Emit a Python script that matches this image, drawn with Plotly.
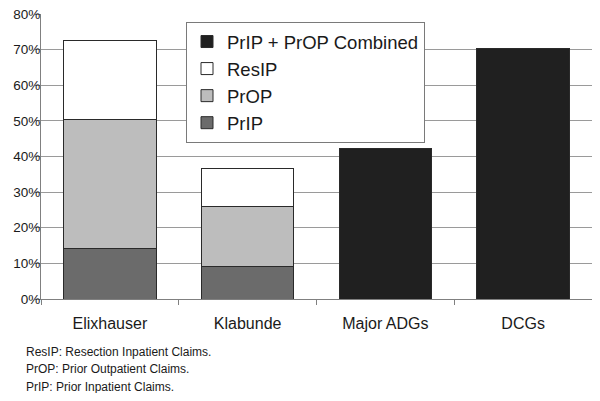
import plotly.graph_objects as go

categories = ["Elixhauser", "Klabunde", "Major ADGs", "DCGs"]
prip = [14.2, 9.1, None, None]
prop = [36.3, 17.0, None, None]
resip = [22.0, 10.5, None, None]
combined = [None, None, 42.3, 70.3]
y_ticks = [0, 10, 20, 30, 40, 50, 60, 70, 80]
y_tick_labels = [f"{v}%" for v in y_ticks]
footnotes = ["ResIP: Resection Inpatient Claims.",
             "PrOP: Prior Outpatient Claims.",
             "PrIP: Prior Inpatient Claims."]

FONT = "Liberation Sans, Arial, sans-serif"
line = dict(color="#2a2a2a", width=1)

# the page body adds an 8px offset; size the figure so the plot lands where the reference has it
W, H = 584, 385
L, T = 33, 6
PLOT_W = 551
PLOT_H = 285


def py(screen_y):
    return (299 - screen_y) / PLOT_H


def px(screen_x):
    return (screen_x - 41) / PLOT_W


fig = go.Figure()
fig.add_trace(go.Bar(name="PrIP", x=categories, y=prip, marker=dict(color="#6b6b6b", line=line)))
fig.add_trace(go.Bar(name="PrOP", x=categories, y=prop, marker=dict(color="#bdbdbd", line=line)))
fig.add_trace(go.Bar(name="ResIP", x=categories, y=resip, marker=dict(color="#ffffff", line=line)))
fig.add_trace(go.Bar(name="PrIP + PrOP Combined", x=categories, y=combined,
                     marker=dict(color="#202020", line=line)))

fig.update_layout(
    width=W, height=H,
    margin=dict(l=L, r=W - L - PLOT_W, t=T, b=H - T - PLOT_H, autoexpand=False),
    paper_bgcolor="white", plot_bgcolor="white",
    barmode="stack", bargap=0.33,
    font=dict(family=FONT, color="#1a1a1a"),
    showlegend=True,
    legend=dict(
        traceorder="reversed",
        x=px(186), y=py(22), xanchor="left", yanchor="top",
        bgcolor="white", bordercolor="#7a7a7a", borderwidth=1,
        font=dict(family=FONT, size=18.5, color="#1a1a1a"),
        itemwidth=30, tracegroupgap=0,
    ),
    xaxis=dict(
        tickson="boundaries", ticks="outside", ticklen=5, tickcolor="#808080",
        showline=True, linecolor="#808080", linewidth=1,
        tickfont=dict(family=FONT, size=16, color="#1a1a1a"),
        ticklabelstandoff=10,
        showgrid=False,
    ),
    yaxis=dict(
        range=[0, 80], tickvals=y_ticks, ticktext=y_tick_labels,
        ticks="outside", ticklen=5, tickcolor="#808080",
        showline=True, linecolor="#808080", linewidth=1,
        showgrid=True, gridcolor="#9a9a9a", gridwidth=1,
        tickfont=dict(family=FONT, size=13.5, color="#1a1a1a"),
        ticklabelstandoff=-8, ticklabeloverflow="allow",
        zeroline=False,
    ),
)

for i, txt in enumerate(footnotes):
    fig.add_annotation(
        text=txt, xref="paper", yref="paper",
        x=px(24), y=py(351.5 + 17.5 * i),
        xanchor="left", yanchor="middle", showarrow=False,
        font=dict(family=FONT, size=12, color="#1a1a1a"),
    )

fig.write_html("out.html")
